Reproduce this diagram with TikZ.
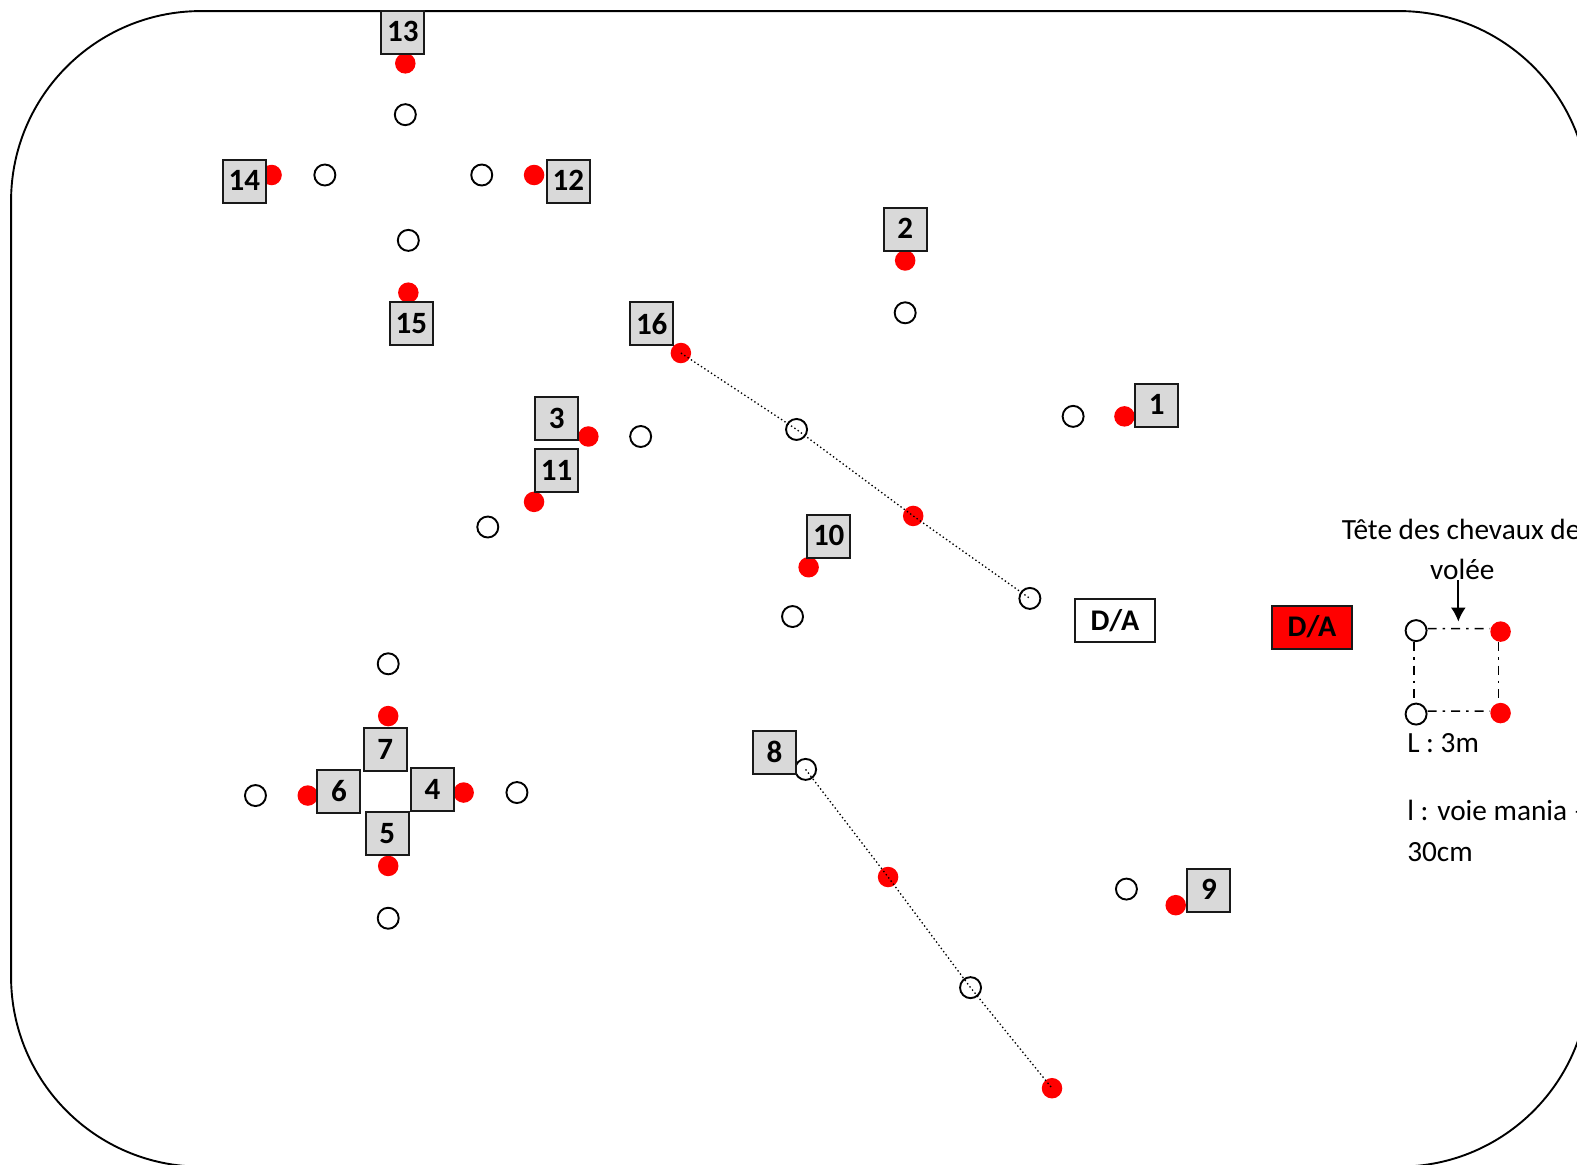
\documentclass[tikz,border=0pt]{standalone}
\usepackage{fontspec}
\usetikzlibrary{arrows.meta}
\setmainfont{Carlito}
\newcommand\nbtxt[1]{\raisebox{1pt}{#1}}
\begin{document}
\begin{tikzpicture}[x=1.00574pt,y=-1.00574pt,
  numbox/.style={draw=black!90,line width=2pt,fill=black!15,minimum size=43pt,inner sep=0pt,font=\fontsize{31}{31}\selectfont\bfseries},
  dabox/.style={draw=black!90,line width=2pt,minimum width=80pt,minimum height=43pt,inner sep=0pt,font=\fontsize{30}{30}\selectfont\bfseries},
  reddot/.style={circle,fill=red,draw=none,minimum size=20.5pt,inner sep=0pt},
  opendot/.style={circle,draw=black,line width=1.9pt,minimum size=21pt,inner sep=0pt},
  dotline/.style={line width=1.3pt,dash pattern=on 1.4pt off 2.6pt},
  dashdot/.style={line width=1.5pt,dash pattern=on 9pt off 6pt on 2.5pt off 6pt},
  lbl/.style={anchor=base west,inner sep=0pt,font=\fontsize{29.3}{29.3}\selectfont}]
\useasboundingbox (0,0) rectangle (1568,1157.4);
\clip (0,0) rectangle (1568,1157.4);
\fill[white] (0,0) rectangle (1568,1157.4);
\draw[line width=1.9pt,rounded corners=190pt] (11,11) rectangle (1580,1160);
% red dots
\node[reddot] (r13) at (403,63) {};
\node[reddot] (r14) at (270,174) {};
\node[reddot] (r12) at (531,174) {};
\node[reddot] (r15) at (406,291) {};
\node[reddot] (r2) at (900,259) {};
\node[reddot] (r16) at (677,351) {};
\node[reddot] (r3) at (585,434) {};
\node[reddot] (r11) at (531,499) {};
\node[reddot] (r1) at (1118,414) {};
\node[reddot] (rm) at (908,513) {};
\node[reddot] (r10) at (804,564) {};
\node[reddot] (r7) at (386,712) {};
\node[reddot] (r6) at (306,791) {};
\node[reddot] (r4) at (461,788) {};
\node[reddot] (r5) at (386,861) {};
\node[reddot] (r8) at (883,872) {};
\node[reddot] (r9) at (1169,900) {};
\node[reddot] (re) at (1046,1082) {};
\node[reddot] (qa) at (1492,628) {};
\node[reddot] (qb) at (1492,709) {};
% open dots
\node[opendot] (o13) at (403,114) {};
\node[opendot] (o14) at (323,174) {};
\node[opendot] (o12) at (479,174) {};
\node[opendot] (o15) at (406,239) {};
\node[opendot] (o2) at (900,311) {};
\node[opendot] (o16) at (792,427) {};
\node[opendot] (o3) at (637,434) {};
\node[opendot] (o11) at (485,524) {};
\node[opendot] (o1) at (1067,414) {};
\node[opendot] (oe) at (1024,595) {};
\node[opendot] (o10) at (788,613) {};
\node[opendot] (o7) at (386,660) {};
\node[opendot] (o6) at (254,791) {};
\node[opendot] (o4) at (514,788) {};
\node[opendot] (o5) at (386,913) {};
\node[opendot] (o8) at (801,765) {};
\node[opendot] (om) at (965,982) {};
\node[opendot] (o9) at (1120,884) {};
\node[opendot] (qc) at (1408,627) {};
\node[opendot] (qd) at (1408,710) {};
% connectors
\draw[dotline] (r16.center) -- (o16.center) -- (rm.center) -- (oe.center);
\draw[dotline] (o8.center) -- (r8.center) -- (om.center) -- (re.center);
\draw[dashdot] ([yshift=2pt]qc.east) -- ([yshift=3pt]qa.west);
\draw[dashdot] ([xshift=-2pt]qa.south) -- ([xshift=-2pt]qb.north);
\draw[dashdot] ([yshift=3pt]qd.east) -- ([yshift=2pt]qb.west);
\draw[dashdot] ([xshift=-2pt]qc.south) -- ([xshift=-2pt]qd.north);
% number boxes
\node[numbox] (b13) at (400.5,32) {\nbtxt{13}};
\node[numbox] (b14) at (243,180) {\nbtxt{14}};
\node[numbox] (b12) at (565,180) {\nbtxt{12}};
\node[numbox] (b15) at (409,322) {15};
\node[numbox] (b2) at (900,228) {\nbtxt{2}};
\node[numbox] (b16) at (648,322) {16};
\node[numbox] (b3) at (553.5,416) {3};
\node[numbox] (b11) at (553.5,468) {\nbtxt{11}};
\node[numbox] (b1) at (1150,403) {\nbtxt{1}};
\node[numbox] (b10) at (824,533) {\nbtxt{10}};
\node[numbox] (b7) at (383,745) {7};
\node[numbox] (b6) at (337,787) {6};
\node[numbox] (b4) at (430,785) {\nbtxt{4}};
\node[numbox] (b5) at (385,829) {5};
\node[numbox] (b8) at (770,748) {\nbtxt{8}};
\node[numbox] (b9) at (1202,885) {\nbtxt{9}};
\node[dabox,fill=white] (da1) at (1108.5,617) {D/A};
\node[dabox,fill=red] (da2) at (1304.5,623.5) {D/A};
% texts
\node[lbl] (t1) at (1334,536) {Tête des chevaux de};
\node[lbl,anchor=base] (t2) at (1454,576) {volée};
\node[lbl] (t3) at (1399,748) {L : 3m};
\node[lbl] (t4) at (1399,816) {l : voie mania –};
\node[lbl] (t5) at (1399,857) {30cm};
\coordinate (ar) at (1450,618);
\coordinate (as) at (1450,577);
\draw[line width=1.7pt,-{Latex[length=14pt,width=15pt]}] (as) -- (ar);
\end{tikzpicture}
\end{document}
